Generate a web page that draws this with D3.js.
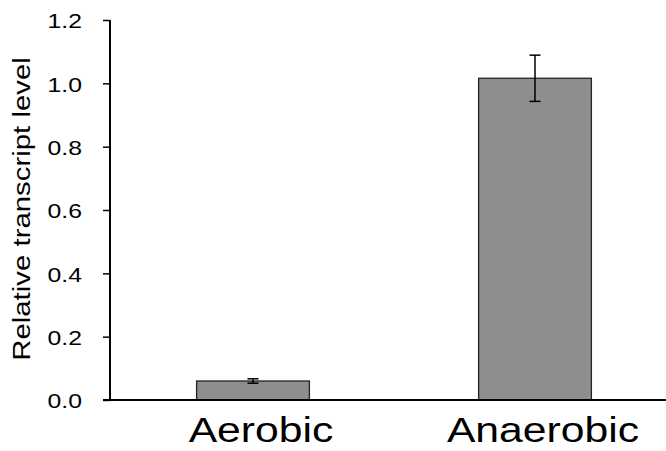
<!DOCTYPE html>
<html>
<head>
<meta charset="utf-8">
<script src="https://cdn.jsdelivr.net/npm/d3@7"></script>
<style>
  html, body { margin: 0; padding: 0; background: #fff; }
  svg { display: block; }
</style>
</head>
<body>
<script>
// Relative transcript level under two growth conditions
const categories = ["Aerobic", "Anaerobic"];
const means = [0.06, 1.016];
const errors = [0.007, 0.073];
const yTicks = [0.0, 0.2, 0.4, 0.6, 0.8, 1.0, 1.2];

const W = 666, H = 451;
const FONT = "Liberation Sans, Arial, sans-serif";
const svg = d3.select("body").append("svg").attr("width", W).attr("height", H);

const y = d3.scaleLinear().domain([0, 1.2]).range([400, 20]);
const x = d3.scaleBand().domain(categories).range([112, 676])
  .paddingInner(0.6).paddingOuter(0.3);

// Bars
svg.selectAll("rect.bar").data(categories).join("rect")
  .attr("class", "bar")
  .attr("x", d => x(d))
  .attr("width", x.bandwidth())
  .attr("y", (d, i) => y(means[i]))
  .attr("height", (d, i) => y(0) - y(means[i]))
  .attr("fill", "#8e8e8e")
  .attr("stroke", "#222")
  .attr("stroke-width", 1.3);

// Error bars
const eb = svg.selectAll("g.err").data(categories).join("g").attr("class", "err");
eb.append("line")
  .attr("x1", d => x(d) + x.bandwidth() / 2)
  .attr("x2", d => x(d) + x.bandwidth() / 2)
  .attr("y1", (d, i) => y(means[i] - errors[i]))
  .attr("y2", (d, i) => y(means[i] + errors[i]))
  .attr("stroke", "#000").attr("stroke-width", 1.5);
[-1, 1].forEach(s => {
  eb.append("line")
    .attr("x1", d => x(d) + x.bandwidth() / 2 - 5.5)
    .attr("x2", d => x(d) + x.bandwidth() / 2 + 5.5)
    .attr("y1", (d, i) => y(means[i] + s * errors[i]))
    .attr("y2", (d, i) => y(means[i] + s * errors[i]))
    .attr("stroke", "#000").attr("stroke-width", 1.5);
});

// Y axis
const yAxis = d3.axisLeft(y).tickValues(yTicks).tickFormat(d3.format(".1f"))
  .tickSize(7).tickPadding(0);
const gy = svg.append("g").attr("transform", "translate(110,0)").call(yAxis);
gy.select(".domain").attr("stroke", "#000").attr("stroke-width", 2)
  .attr("d", `M0,${y(1.2)}V${y(0)}`);
gy.selectAll(".tick line").attr("stroke", "#000").attr("stroke-width", 1.5);
gy.selectAll(".tick text")
  .attr("x", 0)
  .attr("dy", "0.40em")
  .attr("transform", "translate(-28,0) scale(1.27,1)")
  .attr("font-family", FONT)
  .attr("font-size", 19.5).attr("fill", "#000");

// X axis baseline
svg.append("line")
  .attr("x1", 103).attr("x2", W)
  .attr("y1", y(0)).attr("y2", y(0))
  .attr("stroke", "#000").attr("stroke-width", 2);

// Category labels
svg.selectAll("text.cat").data(categories).join("text")
  .attr("class", "cat")
  .attr("transform", d => `translate(${x(d) + x.bandwidth() / 2 + 8},442) scale(1.22,1)`)
  .attr("text-anchor", "middle")
  .attr("font-family", FONT)
  .attr("font-size", 35)
  .attr("fill", "#000")
  .text(d => d);

// Y axis title
svg.append("text")
  .attr("transform", `translate(30,${(y(0) + y(1.2)) / 2 - 1}) rotate(-90) scale(1.25,1)`)
  .attr("text-anchor", "middle")
  .attr("font-family", FONT)
  .attr("font-size", 23.5)
  .attr("fill", "#000")
  .text("Relative transcript level");
</script>
</body>
</html>
